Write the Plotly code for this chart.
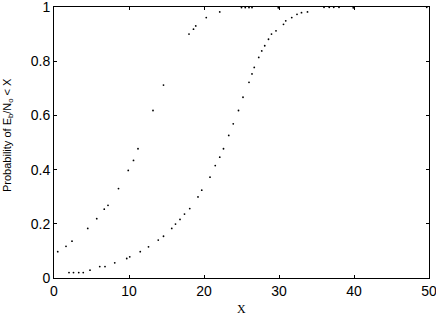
import plotly.graph_objects as go

# Curve 1 (steep CDF)
x1 = [0.5, 1.6, 2.4, 4.5, 5.7, 6.7, 7.2, 8.6, 9.9, 10.6, 11.2, 13.2, 14.6, 18.0, 18.6, 18.9,
      20.3, 22.1, 25.0, 25.5, 26.0, 26.4, 29.9, 36.0, 36.7, 37.3, 38.0, 39.9, 49.7]
y1 = [0.097, 0.117, 0.136, 0.183, 0.219, 0.254, 0.268, 0.330, 0.397, 0.434, 0.477, 0.618, 0.712,
      0.900, 0.918, 0.930, 0.961, 0.982, 0.998, 0.998, 0.998, 0.998, 0.997, 0.999, 0.999, 0.999,
      0.999, 0.997, 0.999]

# Curve 2 (sigmoid CDF)
x2 = [2.0, 2.6, 3.3, 3.9, 4.8, 6.1, 6.8, 8.1, 9.7, 10.1, 11.5, 12.6, 13.9, 14.6, 15.7, 16.2,
      16.8, 17.4, 18.1, 19.2, 19.7, 20.8, 21.5, 22.1, 22.6, 23.3, 23.9, 24.6, 25.2, 26.0, 26.4,
      26.7, 27.3, 27.7, 28.1, 28.6, 29.0, 29.6, 30.6, 30.9, 31.7, 32.4, 33.0, 33.8]
y2 = [0.020, 0.020, 0.020, 0.020, 0.029, 0.042, 0.042, 0.056, 0.072, 0.078, 0.097, 0.115, 0.140,
      0.154, 0.183, 0.199, 0.216, 0.236, 0.256, 0.299, 0.324, 0.372, 0.415, 0.446, 0.477, 0.526,
      0.569, 0.618, 0.667, 0.722, 0.753, 0.777, 0.814, 0.838, 0.857, 0.881, 0.900, 0.912, 0.936,
      0.949, 0.961, 0.973, 0.979, 0.982]

x_ticks = [0, 10, 20, 30, 40, 50]
y_ticks = [0, 0.2, 0.4, 0.6, 0.8, 1]
y_tick_text = ["0", "0.2", "0.4", "0.6", "0.8", "1"]
x_title = "X"
y_title = "Probability of E<sub>b</sub>/N<sub>o</sub> < X"

W, H = 436, 318
L, R, T, B = 54, 7, 7, 40
pw, ph = W - L - R, H - T - B

fig = go.Figure()
for xs, ys in ((x1, y1), (x2, y2)):
    fig.add_trace(go.Scatter(x=xs, y=ys, mode="markers",
                             marker=dict(color="black", size=1.8, line=dict(width=0)),
                             showlegend=False, hoverinfo="skip"))

axis_common = dict(showgrid=False, zeroline=False, showline=True, linecolor="black",
                   linewidth=1, mirror="ticks", ticks="inside", ticklen=3,
                   tickcolor="black", automargin=False, ticklabeloverflow="allow",
                   tickfont=dict(family="Liberation Sans, Arial", size=14, color="black"))
fig.update_xaxes(range=[0, 50], tickvals=x_ticks, **axis_common)
fig.update_yaxes(range=[0, 1], tickvals=y_ticks, ticktext=y_tick_text, **axis_common)

fig.add_annotation(text=x_title, xref="paper", yref="paper", showarrow=False,
                   x=(241 - L) / pw, y=-(309 - (T + ph)) / ph, xanchor="center", yanchor="middle",
                   font=dict(family="Liberation Serif, Times New Roman", size=12, color="black"))
fig.add_annotation(text=y_title, xref="paper", yref="paper", showarrow=False, textangle=-90,
                   x=-(L - 8) / pw, y=1 - (135 - T) / ph, xanchor="center", yanchor="middle",
                   font=dict(family="Liberation Sans, Arial", size=11, color="black"))

fig.update_layout(width=W, height=H, plot_bgcolor="white", paper_bgcolor="white",
                  margin=dict(l=L, r=R, t=T, b=B))
fig.write_html("out.html", config={"displayModeBar": False, "staticPlot": True},
               post_script="document.body.style.margin='0';document.body.style.overflow='hidden';")
